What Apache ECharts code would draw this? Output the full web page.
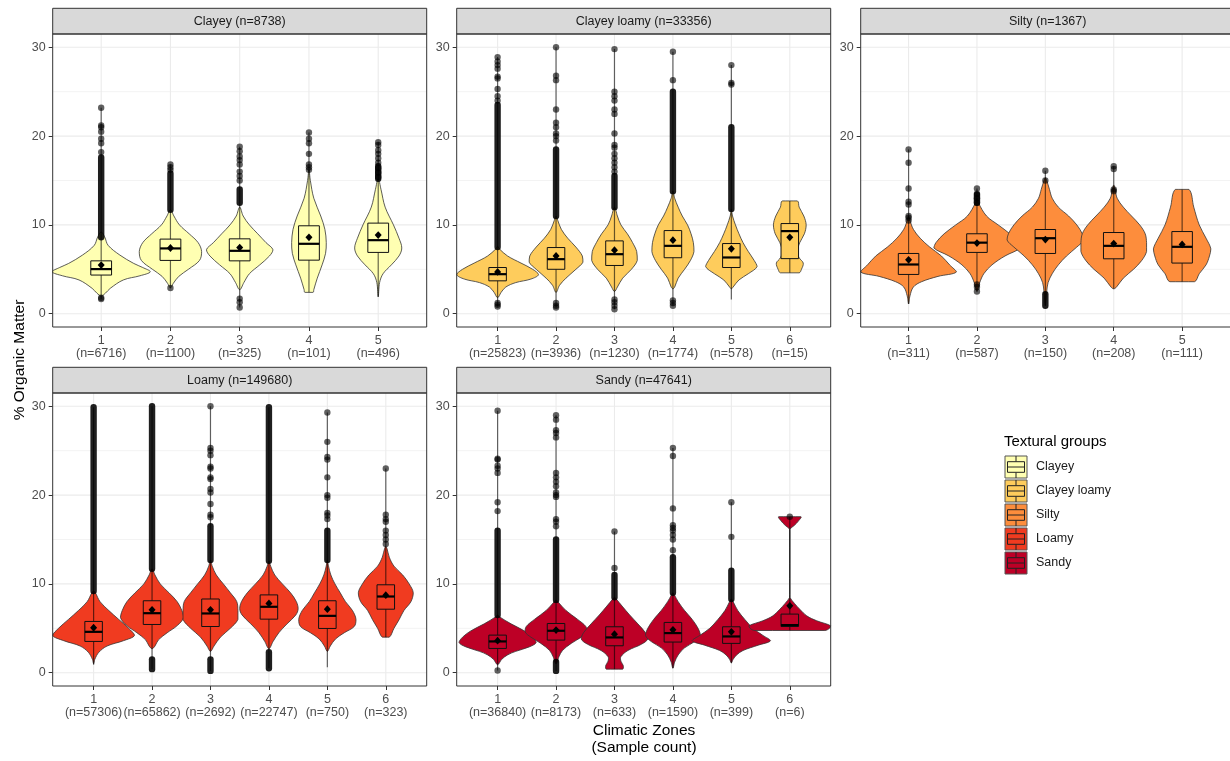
<!DOCTYPE html>
<html><head><meta charset="utf-8">
<script src="https://cdn.jsdelivr.net/npm/echarts@6/dist/echarts.min.js"></script>
<style>html,body{margin:0;padding:0;background:#fff}#c{width:1230px;height:761px}</style>
</head><body><div id="c"></div>
<script>
// ---------------- DATA ----------------
const groups = ['Clayey', 'Clayey loamy', 'Silty', 'Loamy', 'Sandy'];
const groupN = [8738, 33356, 1367, 149680, 47641];
const colors = ['#FFFFB2', '#FECC5C', '#FD8D3C', '#F03B20', '#BD0026'];
const yTicks = [0, 10, 20, 30];
const yMinor = [5, 15, 25];
const zoneCounts = [
  [6716, 1100, 325, 101, 496],
  [25823, 3936, 1230, 1774, 578, 15],
  [311, 587, 150, 208, 111],
  [57306, 65862, 2692, 22747, 750, 323],
  [36840, 8173, 633, 1590, 399, 6]
];
const q1 = [
  [4.35, 6.0, 5.95, 6.03, 6.9],
  [3.7, 5.0, 5.43, 6.3, 5.2, 6.2],
  [4.42, 6.9, 6.78, 6.18, 5.7],
  [3.52, 5.43, 5.2, 6.03, 4.98, 7.15],
  [2.73, 3.67, 3.03, 3.45, 3.3, 5.2]
];
const medians = [
  [5.02, 7.35, 7.08, 7.87, 8.28],
  [4.45, 6.14, 6.7, 7.64, 6.33, 9.3],
  [5.54, 8.0, 8.5, 7.64, 7.53],
  [4.6, 6.7, 6.67, 7.42, 6.4, 8.58],
  [3.52, 4.72, 3.97, 4.46, 4.08, 5.36]
];
const q3 = [
  [5.95, 8.4, 8.43, 9.9, 10.2],
  [5.2, 7.45, 8.2, 9.36, 7.9, 10.15],
  [6.78, 9.0, 9.48, 9.14, 9.25],
  [5.77, 8.1, 8.3, 8.76, 8.1, 9.9],
  [4.23, 5.54, 5.17, 5.66, 5.17, 6.6]
];
const means = [
  [5.47, 7.4, 7.45, 8.6, 8.85],
  [4.7, 6.5, 7.15, 8.28, 7.3, 8.6],
  [6.07, 7.95, 8.35, 7.9, 7.8],
  [5.06, 7.08, 7.08, 7.8, 7.15, 8.73],
  [3.6, 4.8, 4.34, 4.83, 4.6, 7.53]
];
const whiskerLow = [
  [1.65, 2.9, 0.7, 2.4, 1.9],
  [0.8, 0.7, 0.5, 0.9, 1.6, 4.6],
  [1.1, 2.5, 0.9, 2.8, 3.6],
  [0.9, 0.4, 0.2, 0.5, 0.6, 4.0],
  [0.25, 0.2, 0.4, 0.5, 1.1, 4.75]
];
const whiskerHigh = [
  [23.2, 16.8, 18.8, 20.4, 19.3],
  [28.9, 30, 29.8, 29.5, 28, 12.7],
  [18.5, 14.1, 16.1, 16.6, 14],
  [29.9, 30, 30, 29.9, 29.3, 23],
  [29.5, 29, 15.9, 25.3, 19.2, 17.57]
];
// sparse outlier points
const outliersClayey = [
  [1.65, 1.8, 18.2, 19.2, 19.7, 20.5, 21, 21.2, 23.2],
  [2.9, 16.2, 16.5, 16.8],
  [0.7, 1.3, 1.7, 15, 15.5, 16, 16.8, 17.3, 17.7, 18.3, 18.8],
  [16.2, 16.5, 16.8, 18, 19.2, 19.7, 20.4],
  [15.4, 15.9, 16.4, 17, 17.5, 18, 18.4, 19, 19.3]
];
const outliersClayeyLoamy = [
  [0.8, 1.0, 1.2, 24, 24.5, 25.3, 26.5, 26.7, 27.6, 28, 28.4, 28.9],
  [0.7, 0.9, 1.2, 19.5, 20, 20.3, 21, 21.5, 23, 26.3, 26.8, 30],
  [0.5, 0.9, 1.3, 1.6, 16, 16.5, 17, 17.5, 18, 18.7, 19, 20.3, 22.5, 23, 24, 24.5, 25, 29.8],
  [0.9, 1.2, 1.5, 26.3, 29.5],
  [25.8, 26, 28],
  []
];
const outliersSilty = [
  [10.5, 10.8, 11, 12.3, 12.6, 14.1, 17, 18.5],
  [2.5, 3.0, 3.3, 12.5, 13, 13.5, 14.1],
  [15, 16.1],
  [13.8, 14, 16.3, 16.6],
  []
];
const outliersLoamy = [
  [],
  [],
  [17.5, 17.8, 19, 20.3, 20.7, 21.8, 22, 23, 23.2, 24.5, 25, 25.3, 30],
  [],
  [17.3, 17.7, 18, 19.7, 20, 22, 24, 24.3, 26, 29.3],
  [14.5, 15, 15.5, 16, 17, 17.3, 17.8, 23]
];
const outliersSandy = [
  [0.25, 18.2, 19.2, 22.5, 23, 23.3, 24, 24.1, 29.5],
  [16.5, 17, 17.3, 19.8, 20, 20.3, 21, 21.5, 22, 22.5, 26.5, 27, 27.3, 28.5, 29],
  [11.8, 15.9],
  [13.8, 15, 15.5, 16, 16.3, 16.6, 18.5, 24.4, 25.3],
  [15.3, 19.2],
  [17.57]
];
// ranges where outlier points overlap into solid streaks [from, to]
const denseClayey = [[[8.6, 17.6]], [[11.7, 15.8]], [[12.5, 14]], [], [[15.2, 16.6]]];
const denseClayeyLoamy = [[[7.5, 23.5]], [[11, 18.5]], [[12, 15.5]], [[13.8, 25]], [[11.8, 21]], []];
const denseSilty = [[], [[12.5, 13.4]], [[0.9, 2.2]], [], []];
const denseLoamy = [[[9.2, 29.9]], [[11.7, 30], [0.4, 1.5]], [[12.7, 16.5], [0.2, 1.5]], [[12.6, 29.9], [0.5, 2.3]], [[12.7, 16]], []];
const denseSandy = [[[6.5, 16]], [[8.2, 15], [0.2, 1.2]], [[8.5, 11]], [[9, 13]], [[8.3, 11.5]], []];
// violin profiles: [value, half-width in zone units]
const violinsClayey = [
  [[2.0, 0], [2.3, 0.06], [2.85, 0.13], [3.8, 0.32], [4.27, 0.56], [4.72, 0.71], [5.2, 0.6], [5.66, 0.47], [6.6, 0.27], [7.7, 0.1], [8.65, 0.05], [9.2, 0]],
  [[2.9, 0], [3.4, 0.04], [4.2, 0.12], [5, 0.26], [6, 0.42], [7, 0.45], [8, 0.4], [9, 0.27], [10, 0.13], [11, 0.05], [11.7, 0]],
  [[2.7, 0], [3.5, 0.06], [4.5, 0.14], [5.5, 0.29], [6.5, 0.43], [7.2, 0.48], [8, 0.38], [9, 0.26], [10, 0.14], [11, 0.05], [12, 0]],
  [[2.4, 0.06], [2.7, 0.07], [4, 0.12], [5.5, 0.19], [6.8, 0.24], [8, 0.25], [9.5, 0.23], [11, 0.17], [13, 0.07], [15, 0.02], [16.2, 0]],
  [[1.9, 0], [3.5, 0.02], [4.5, 0.07], [5.5, 0.19], [6.5, 0.3], [7.4, 0.34], [8.5, 0.3], [10, 0.22], [12, 0.1], [14, 0.04], [15.2, 0]]
];
const violinsClayeyLoamy = [
  [[1.8, 0], [2.4, 0.06], [3, 0.14], [3.5, 0.31], [3.9, 0.57], [4.4, 0.7], [5, 0.6], [5.7, 0.4], [6.5, 0.17], [7.3, 0.03], [7.6, 0]],
  [[2.4, 0], [3.2, 0.06], [4, 0.17], [5, 0.34], [5.8, 0.46], [6.5, 0.45], [7.5, 0.34], [8.5, 0.2], [9.5, 0.09], [10.5, 0.03], [11, 0]],
  [[2.5, 0], [3, 0.05], [4, 0.14], [5, 0.29], [6, 0.39], [7, 0.38], [8, 0.31], [9, 0.22], [10, 0.11], [11, 0.05], [12, 0]],
  [[2.8, 0], [3, 0.03], [4, 0.09], [5, 0.2], [6, 0.3], [7, 0.36], [8, 0.35], [9, 0.31], [10, 0.25], [11, 0.16], [12, 0.09], [13, 0.03], [13.8, 0]],
  [[2.8, 0], [3, 0.03], [3.8, 0.13], [4.5, 0.29], [5.3, 0.44], [6, 0.39], [7, 0.29], [8, 0.2], [9, 0.13], [10, 0.07], [11, 0.02], [11.8, 0]],
  [[4.6, 0.16], [5.0, 0.2], [5.7, 0.23], [6.3, 0.16], [7, 0.13], [8, 0.17], [9, 0.25], [10, 0.28], [11, 0.24], [12, 0.16], [12.7, 0.13]]
];
const violinsSilty = [
  [[1.1, 0], [2, 0.02], [3, 0.07], [3.6, 0.19], [4.2, 0.43], [4.7, 0.7], [5.5, 0.6], [6.5, 0.48], [7.5, 0.31], [8.5, 0.17], [9.5, 0.07], [10.5, 0.02], [11, 0]],
  [[2.5, 0], [3.5, 0.04], [4.5, 0.1], [5.5, 0.22], [6.5, 0.41], [7.4, 0.63], [8, 0.6], [9, 0.48], [10, 0.31], [11, 0.14], [12.5, 0.02], [13, 0]],
  [[0.9, 0], [1.5, 0.01], [2.5, 0.02], [3.5, 0.04], [4.5, 0.1], [5.5, 0.19], [6.5, 0.31], [7.5, 0.46], [8.3, 0.56], [9, 0.54], [10, 0.46], [11, 0.34], [12, 0.19], [13, 0.1], [14, 0.06], [15, 0.02], [15.3, 0]],
  [[2.8, 0], [3, 0.04], [4, 0.14], [5, 0.29], [6, 0.41], [7, 0.48], [8, 0.48], [9, 0.46], [10, 0.38], [11, 0.26], [12, 0.14], [13, 0.05], [14, 0.02], [14.5, 0]],
  [[3.6, 0.18], [4.5, 0.25], [5.5, 0.35], [6.5, 0.4], [7.3, 0.42], [8.5, 0.35], [10, 0.25], [12, 0.17], [14, 0.1]]
];
const violinsLoamy = [
  [[1, 0], [1.5, 0.02], [2.3, 0.09], [3, 0.23], [3.6, 0.51], [4.2, 0.7], [5, 0.6], [6, 0.43], [7, 0.26], [8, 0.11], [9, 0.03], [9.2, 0]],
  [[2.7, 0], [3, 0.05], [3.7, 0.11], [4.5, 0.26], [5.3, 0.43], [6.2, 0.54], [7, 0.51], [8, 0.43], [9, 0.29], [10, 0.14], [11, 0.05], [11.7, 0]],
  [[2.4, 0], [3, 0.06], [4, 0.17], [5, 0.34], [6, 0.47], [7, 0.47], [8, 0.45], [9, 0.34], [10, 0.22], [11, 0.1], [12, 0.03], [12.7, 0]],
  [[2.7, 0], [3.5, 0.07], [4.5, 0.17], [5.5, 0.31], [6.5, 0.46], [7.2, 0.5], [8, 0.47], [9, 0.37], [10, 0.23], [11, 0.1], [12, 0.03], [12.6, 0]],
  [[2.4, 0], [3, 0.05], [3.8, 0.14], [4.5, 0.29], [5.2, 0.46], [6, 0.49], [7, 0.43], [8, 0.31], [9, 0.22], [10, 0.13], [11, 0.06], [12, 0.02], [12.7, 0]],
  [[4, 0.06], [5, 0.14], [6, 0.23], [7, 0.31], [8, 0.43], [9, 0.47], [10, 0.4], [11, 0.29], [12, 0.14], [13, 0.06], [14, 0.02], [14.2, 0]]
];
const violinsSandy = [
  [[0.9, 0], [1.5, 0.07], [2, 0.17], [2.4, 0.31], [2.9, 0.54], [3.4, 0.66], [4, 0.6], [4.7, 0.46], [5.5, 0.23], [6.3, 0.03], [6.5, 0]],
  [[1, 0], [1.8, 0.05], [2.5, 0.11], [3.3, 0.26], [4, 0.43], [4.6, 0.53], [5.2, 0.51], [6, 0.37], [7, 0.17], [8, 0.03], [8.2, 0]],
  [[0.4, 0.14], [0.8, 0.15], [1.3, 0.11], [1.8, 0.11], [2.5, 0.23], [3.2, 0.46], [3.8, 0.57], [4.5, 0.53], [5.5, 0.4], [6.5, 0.26], [7.5, 0.13], [8.3, 0.03], [8.5, 0]],
  [[0.5, 0], [1.2, 0.03], [2, 0.09], [2.8, 0.2], [3.5, 0.37], [4.2, 0.47], [5, 0.43], [6, 0.33], [7, 0.2], [8, 0.09], [8.7, 0.03], [9, 0]],
  [[1.1, 0], [1.5, 0.03], [2, 0.09], [2.5, 0.2], [3.1, 0.46], [3.6, 0.67], [4.2, 0.54], [5, 0.37], [6, 0.23], [7, 0.11], [8, 0.03], [8.3, 0]],
  [[4.75, 0.6], [5.0, 0.68], [5.28, 0.7], [5.85, 0.46], [6.4, 0.29], [7.15, 0.17], [7.8, 0.08], [8.5, 0], [8.8, 0], [15.85, 0], [16.15, 0], [16.6, 0.08], [17.1, 0.15], [17.57, 0.19]]
];
const violins = [violinsClayey, violinsClayeyLoamy, violinsSilty, violinsLoamy, violinsSandy];
const outliers = [outliersClayey, outliersClayeyLoamy, outliersSilty, outliersLoamy, outliersSandy];
const dense = [denseClayey, denseClayeyLoamy, denseSilty, denseLoamy, denseSandy];

// ---------------- LAYOUT / STYLE ----------------
const FONT = "'Liberation Sans', Arial, sans-serif";
const panelLeft = [52.7, 456.7, 860.7, 52.7, 456.7];
const panelTop = [34, 34, 34, 393, 393];
const panelW = 374, panelH = 293, stripH = 25.7;
const Y_MIN = -1.5, Y_MAX = 31.5, X_PAD = 0.7, BOX_HALF = 0.15;

const chart = echarts.init(document.getElementById('c'), null, { renderer: 'canvas', width: 1230, height: 761 });
const grids = [], xAxes = [], yAxes = [], series = [], graphics = [];

groups.forEach((g, i) => {
  const n = zoneCounts[i].length;
  const zones = zoneCounts[i].map((_, k) => k + 1);
  const xMax = n + X_PAD, xMin = 1 - X_PAD;
  grids.push({ left: panelLeft[i], top: panelTop[i], width: panelW, height: panelH, containLabel: false });
  xAxes.push({
    type: 'value', gridIndex: i, min: xMin, max: xMax,
    axisLine: { show: false, onZero: false }, splitLine: { show: false },
    axisTick: { show: true, customValues: zones, length: 4, lineStyle: { color: '#333', width: 1 } },
    axisLabel: {
      customValues: zones, color: '#4D4D4D', fontSize: 12.5, lineHeight: 13, margin: 7, fontFamily: FONT,
      formatter: v => { const z = Math.round(v); return z + '\n(n=' + zoneCounts[i][z - 1] + ')'; }
    }
  });
  yAxes.push({
    type: 'value', gridIndex: i, min: Y_MIN, max: Y_MAX,
    axisLine: { show: false, onZero: false }, splitLine: { show: false },
    axisTick: { show: true, customValues: yTicks, length: 4, lineStyle: { color: '#333', width: 1 } },
    axisLabel: { customValues: yTicks, color: '#4D4D4D', fontSize: 12.5, margin: 7, fontFamily: FONT }
  });
  // background grid lines
  series.push({
    type: 'custom', xAxisIndex: i, yAxisIndex: i, z: 1, silent: true, data: [[1, 0]],
    renderItem: (p, api) => {
      const ch = [];
      const hline = (v, col, w) => {
        const a = api.coord([xMin, v]), b = api.coord([xMax, v]);
        ch.push({ type: 'line', shape: { x1: a[0], y1: a[1], x2: b[0], y2: b[1] }, style: { stroke: col, lineWidth: w } });
      };
      yMinor.forEach(v => hline(v, '#F3F3F3', 1));
      yTicks.forEach(v => hline(v, '#EBEBEB', 1.1));
      zones.forEach(z => {
        const a = api.coord([z, Y_MIN]), b = api.coord([z, Y_MAX]);
        ch.push({ type: 'line', shape: { x1: a[0], y1: a[1], x2: b[0], y2: b[1] }, style: { stroke: '#EBEBEB', lineWidth: 1.1 } });
      });
      return { type: 'group', children: ch };
    }
  });
  // violins + boxplots + outliers + means
  series.push({
    type: 'custom', xAxisIndex: i, yAxisIndex: i, z: 2, clip: true, silent: true,
    data: zones.map((z, k) => [z, medians[i][k]]),
    renderItem: (p, api) => {
      const k = p.dataIndex, z = k + 1;
      const ch = [];
      const prof = violins[i][k];
      const right = prof.map(([y, w]) => api.coord([z + w, y]));
      const rev = prof.slice().reverse();
      const left = rev.filter((d, j) => !(d[1] === 0 && (j === 0 || j === rev.length - 1)))
                      .map(([y, w]) => api.coord([z - w, y]));
      const pts = right.concat(left);
      let x0 = Infinity, x1 = -Infinity, y0 = Infinity, y1 = -Infinity;
      pts.forEach(([px, py]) => { x0 = Math.min(x0, px); x1 = Math.max(x1, px); y0 = Math.min(y0, py); y1 = Math.max(y1, py); });
      ch.push({ type: 'polygon', shape: { points: pts, smooth: 0.35, smoothConstraint: [[x0, y0], [x1, y1]] },
        style: { fill: colors[i], stroke: '#333', lineWidth: 0.8 } });
      // whisker / range line
      const wl = api.coord([z, whiskerLow[i][k]]), wh = api.coord([z, whiskerHigh[i][k]]);
      ch.push({ type: 'line', shape: { x1: wl[0], y1: wl[1], x2: wh[0], y2: wh[1] }, style: { stroke: 'rgba(0,0,0,0.6)', lineWidth: 1.2 } });
      // box
      const b1 = api.coord([z - BOX_HALF, q3[i][k]]), b2 = api.coord([z + BOX_HALF, q1[i][k]]);
      ch.push({ type: 'rect', shape: { x: b1[0], y: b1[1], width: b2[0] - b1[0], height: b2[1] - b1[1] }, style: { fill: colors[i], stroke: '#111', lineWidth: 1 } });
      const m1 = api.coord([z - BOX_HALF, medians[i][k]]), m2 = api.coord([z + BOX_HALF, medians[i][k]]);
      ch.push({ type: 'line', shape: { x1: m1[0], y1: m1[1], x2: m2[0], y2: m2[1] }, style: { stroke: '#000', lineWidth: 2.2 } });
      // dense streaks of overlapping outliers
      dense[i][k].forEach(([a, b]) => {
        const pa = api.coord([z, a]), pb = api.coord([z, b]);
        ch.push({ type: 'line', shape: { x1: pa[0], y1: pa[1], x2: pb[0], y2: pb[1] }, style: { stroke: 'rgba(0,0,0,0.88)', lineWidth: 6.4, lineCap: 'round' } });
      });
      // sparse outliers
      outliers[i][k].forEach(v => {
        const c = api.coord([z, v]);
        ch.push({ type: 'circle', shape: { cx: c[0], cy: c[1], r: 3.2 }, style: { fill: 'rgba(0,0,0,0.62)' } });
      });
      // mean diamond
      const mc = api.coord([z, means[i][k]]);
      ch.push({ type: 'polygon', shape: { points: [[mc[0], mc[1] - 3.9], [mc[0] + 3.5, mc[1]], [mc[0], mc[1] + 3.9], [mc[0] - 3.5, mc[1]]] }, style: { fill: '#000' } });
      return { type: 'group', children: ch };
    }
  });
  // strip + border
  graphics.push({ type: 'rect', z: 100, shape: { x: panelLeft[i], y: panelTop[i] - stripH, width: panelW, height: stripH }, style: { fill: '#D9D9D9', stroke: '#333', lineWidth: 1 } });
  graphics.push({ type: 'text', z: 101, x: panelLeft[i] + panelW / 2, y: panelTop[i] - stripH / 2,
    style: { text: g + ' (n=' + groupN[i] + ')', fill: '#1A1A1A', font: '12.5px ' + FONT, textAlign: 'center', textVerticalAlign: 'middle', align: 'center', verticalAlign: 'middle' } });
  graphics.push({ type: 'rect', z: 100, shape: { x: panelLeft[i], y: panelTop[i], width: panelW, height: panelH }, style: { fill: 'transparent', stroke: '#333', lineWidth: 1 } });
});

// axis titles
graphics.push({ type: 'text', z: 101, x: 20, y: 360, rotation: Math.PI / 2,
  style: { text: '% Organic Matter', fill: '#000', font: '15.5px ' + FONT, textAlign: 'center', textVerticalAlign: 'middle', align: 'center', verticalAlign: 'middle' } });
graphics.push({ type: 'text', z: 101, x: 644, y: 731,
  style: { text: 'Climatic Zones', fill: '#000', font: '15.5px ' + FONT, textAlign: 'center', textVerticalAlign: 'middle', align: 'center', verticalAlign: 'middle' } });
graphics.push({ type: 'text', z: 101, x: 644, y: 748,
  style: { text: '(Sample count)', fill: '#000', font: '15.5px ' + FONT, textAlign: 'center', textVerticalAlign: 'middle', align: 'center', verticalAlign: 'middle' } });

// legend
graphics.push({ type: 'text', z: 101, x: 1004, y: 441.5,
  style: { text: 'Textural groups', fill: '#000', font: '15px ' + FONT, textAlign: 'left', textVerticalAlign: 'middle', align: 'left', verticalAlign: 'middle' } });
groups.forEach((g, i) => {
  const x0 = 1005, y0 = 456 + 24 * i, w = 22, h = 22;
  graphics.push({ type: 'rect', z: 100, shape: { x: x0, y: y0, width: w, height: h }, style: { fill: colors[i], stroke: '#555', lineWidth: 1 } });
  graphics.push({ type: 'line', z: 101, shape: { x1: x0 + w / 2, y1: y0, x2: x0 + w / 2, y2: y0 + 5.7 }, style: { stroke: '#222', lineWidth: 1 } });
  graphics.push({ type: 'line', z: 101, shape: { x1: x0 + w / 2, y1: y0 + 16.3, x2: x0 + w / 2, y2: y0 + h }, style: { stroke: '#222', lineWidth: 1 } });
  graphics.push({ type: 'rect', z: 101, shape: { x: x0 + 2.5, y: y0 + 5.7, width: w - 5, height: 10.6 }, style: { fill: colors[i], stroke: '#222', lineWidth: 1 } });
  graphics.push({ type: 'line', z: 101, shape: { x1: x0 + 2.5, y1: y0 + 11, x2: x0 + w - 2.5, y2: y0 + 11 }, style: { stroke: '#222', lineWidth: 1 } });
  graphics.push({ type: 'text', z: 101, x: 1036, y: y0 + 11,
    style: { text: g, fill: '#1A1A1A', font: '12.5px ' + FONT, textAlign: 'left', textVerticalAlign: 'middle', align: 'left', verticalAlign: 'middle' } });
});

chart.setOption({
  animation: false,
  backgroundColor: '#fff',
  grid: grids, xAxis: xAxes, yAxis: yAxes, series: series,
  graphic: { elements: graphics }
});
</script>
</body></html>
